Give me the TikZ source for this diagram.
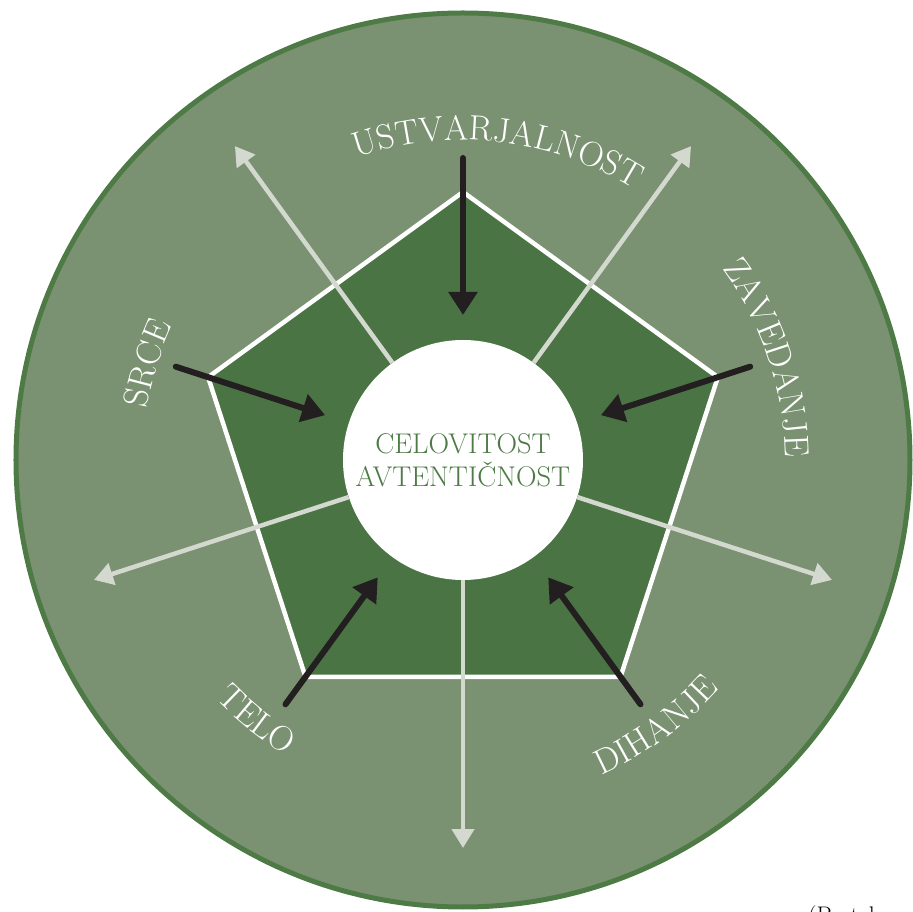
\documentclass[tikz,border=0pt]{standalone}
\usetikzlibrary{arrows.meta,decorations.text}

\definecolor{ringfill}{HTML}{7A9271}
\definecolor{ringedge}{HTML}{4E7A46}
\definecolor{pentafill}{HTML}{4B7444}
\definecolor{raygray}{HTML}{D3D9CF}
\definecolor{inkblack}{HTML}{231F20}
\definecolor{coretext}{HTML}{4E7A46}

\tikzset{
  ray/.style={draw=raygray, line width=4.5pt, -{Triangle[length=19pt,width=22pt]}},
  pull/.style={draw=inkblack, line width=6pt, line cap=round, -{Triangle[length=23pt,width=28pt]}},
  arclabel/.style={decorate, decoration={text along path, text align=center,
      text={|\color{white}\fontsize{35}{42}\selectfont|#1}}},
  coretxt/.style={text=coretext, font=\fontsize{28.5}{34}\selectfont, inner sep=0pt},
}

\begin{document}
\begin{tikzpicture}[x=1pt, y=1pt]
  \useasboundingbox (-463,-452) rectangle (450,460);
  \clip (-463,-452) rectangle (450,460);

  % outer disc
  \draw[ringedge, fill=ringfill, line width=5pt] (0,0) circle[radius=447];

  % pentagon
  \foreach \a [count=\i] in {90,162,234,306,18}
    \coordinate (v\i) at (\a:268);
  \draw[white, line width=4.5pt, fill=pentafill, line join=miter]
    (v1) -- (v2) -- (v3) -- (v4) -- (v5) -- cycle;

  % white core
  \node[circle, fill=white, minimum size=240pt, inner sep=0pt] (core) at (0,0) {};

  % outward rays
  \foreach \a in {126,54,198,-18,-90} {
    \coordinate (tip\a) at (\a:388);
    \draw[ray] (core.\a) -- (tip\a);
  }

  % inward arrows
  \foreach \a in {90,162,18,-126,-54} {
    \coordinate (src\a) at (\a:302);
    \coordinate (dst\a) at (\a:145);
    \draw[pull] (src\a) -- (dst\a);
  }

  % centre text
  \node[coretxt, anchor=base] (line1) at (0,6) {CELOVITOST};
  \node[coretxt, anchor=base] (line2) at (0,-27) {AVTENTIČNOST};

  % curved labels (upper ones clockwise, lower ones anticlockwise)
  \path[arclabel=USTVARJALNOST] (133.5:320) arc[start angle=133.5, end angle=33.5, radius=320];
  \path[arclabel=ZAVEDANJE] (58.5:322) arc[start angle=58.5, end angle=-21.5, radius=322];
  \path[arclabel=SRCE] (203:320) arc[start angle=203, end angle=123, radius=320];
  \path[arclabel=TELO] (-168.5:344) arc[start angle=-168.5, end angle=-88.5, radius=344];
  \path[arclabel=DIHANJE] (-94:344) arc[start angle=-94, end angle=-14, radius=344];

  % source note
  \node[anchor=base west, inner sep=0pt, font=\fontsize{24}{28}\selectfont] (cite) at (345,-463) {(Bertelsen};
\end{tikzpicture}
\end{document}
